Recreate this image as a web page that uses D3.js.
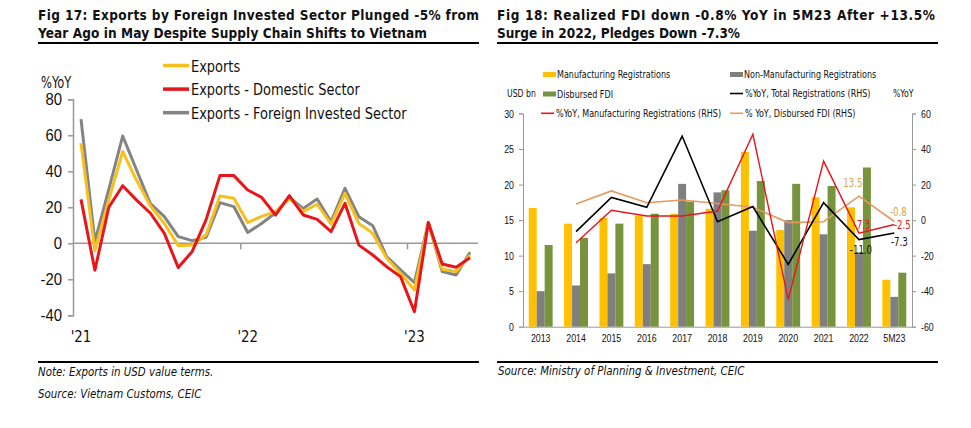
<!DOCTYPE html>
<html>
<head>
<meta charset="utf-8">
<script src="https://cdn.jsdelivr.net/npm/d3@7"></script>
<style>
  body { margin: 0; background: #fff; }
  svg { display: block; }
  .narrow { font-family: "DejaVu Sans Condensed", "DejaVu Sans", sans-serif; }
  .title { font-family: "DejaVu Sans Condensed", "DejaVu Sans", sans-serif; font-weight: bold; font-size: 13.5px; fill: #111; }
  .note { font-family: "DejaVu Sans Condensed", "DejaVu Sans", sans-serif; font-style: italic; font-size: 12px; fill: #111; }
</style>
</head>
<body>
<svg id="chart" width="971" height="428"></svg>
<script>
// ---- Fig 17 data: monthly exports %YoY, Jan-21 .. May-23
const months = ["Jan-21","Feb-21","Mar-21","Apr-21","May-21","Jun-21","Jul-21","Aug-21","Sep-21","Oct-21","Nov-21","Dec-21",
                "Jan-22","Feb-22","Mar-22","Apr-22","May-22","Jun-22","Jul-22","Aug-22","Sep-22","Oct-22","Nov-22","Dec-22",
                "Jan-23","Feb-23","Mar-23","Apr-23","May-23"];
const exportsTotal    = [55.6, -4, 24, 51, 35, 20.7, 11, -1.3, -0.9, 4.6, 26.3, 25, 11.5, 15, 17.6, 25, 17.6, 21.7, 10.7, 27.8, 11, 5.5, -8.3, -16.7, -25.9, 11.5, -14.4, -15.7, -6.5];
const exportsDomestic = [24.4, -15, 20, 32, 24, 16.7, 5.5, -13.5, -4.6, 13, 37.6, 37.6, 29.6, 25.5, 15.7, 26.5, 15.7, 13.3, 6.5, 22.2, -1, -6.5, -13, -18.5, -38, 11.5, -11.5, -13.3, -8];
const exportsForeign  = [69, 1, 30, 59.6, 40.7, 22, 14.8, 3.7, 1.5, 3.3, 22.6, 20.4, 6, 11, 17, 25.4, 19.4, 24.6, 12, 30.5, 14.8, 9.8, -7.4, -14.8, -21.8, 11.5, -15.7, -17.6, -5];
const yearLabels17 = [["Jan-21", "'21"], ["Jan-22", "'22"], ["Jan-23", "'23"]];
const yTicks17 = [80, 60, 40, 20, 0, -20, -40];

// ---- Fig 18 data: FDI, USD bn and %YoY
const years = ["2013","2014","2015","2016","2017","2018","2019","2020","2021","2022","5M23"];
const mfgReg    = [16.7, 14.5, 15.3, 15.6, 15.9, 16.6, 24.6, 13.6, 18.2, 16.8, 6.6];
const nonMfgReg = [5.0, 5.8, 7.5, 8.8, 20.1, 18.9, 13.5, 15.0, 13.0, 10.5, 4.2];
const disbursed = [11.5, 12.5, 14.5, 15.9, 17.6, 19.2, 20.5, 20.1, 19.8, 22.4, 7.6];
const yoyTotal     = [null, -6.5, 12.8, 7.2, 47.3, -0.9, 7.6, -24.9, 9.8, -11.0, -7.3];
const yoyMfg       = [null, -12.7, 5.5, 2.3, 2.3, 5.1, 48.3, -44.6, 33.2, -7.3, -2.5];
const yoyDisbursed = [null, 9.1, 16.4, 9.8, 11.3, 9.3, 7.2, -1.4, -0.9, 13.5, -0.8];
const yTicksL18 = [0, 5, 10, 15, 20, 25, 30];
const yTicksR18 = [-60, -40, -20, 0, 20, 40, 60];

const svg = d3.select("#chart");
const fmt = d => String(d);   // plain hyphen minus like the source

// squeeze text horizontally to mimic the narrow source font
function condense(sel, f) {
  sel.each(function() {
    const w = this.getComputedTextLength();
    d3.select(this).attr("textLength", w * f).attr("lengthAdjust", "spacingAndGlyphs");
  });
  return sel;
}

// ---- titles, rules, notes
function titleBlock(x, lines, width) {
  lines.forEach((l, i) => {
    svg.append("text").attr("class", "title")
      .attr("x", x).attr("y", 20 + i * 17.5)
      .attr("textLength", l[1]).attr("lengthAdjust", "spacing")
      .text(l[0]);
  });
  svg.append("line").attr("x1", x).attr("x2", x + width).attr("y1", 43).attr("y2", 43)
     .attr("stroke", "#000").attr("stroke-width", 2);
  svg.append("line").attr("x1", x).attr("x2", x + width).attr("y1", 362).attr("y2", 362)
     .attr("stroke", "#000").attr("stroke-width", 2);
}
titleBlock(38, [["Fig 17: Exports by Foreign Invested Sector Plunged -5% from", 441],
                ["Year Ago in May Despite Supply Chain Shifts to Vietnam", 389]], 441);
titleBlock(497, [["Fig 18: Realized FDI down -0.8% YoY in 5M23 After +13.5%", 438],
                 ["Surge in 2022, Pledges Down -7.3%", 243]], 441);

condense(svg.append("text").attr("class", "note").attr("x", 38).attr("y", 376).text("Note: Exports in USD value terms."), 0.95);
condense(svg.append("text").attr("class", "note").attr("x", 38).attr("y", 398).text("Source: Vietnam Customs, CEIC"), 0.95);
condense(svg.append("text").attr("class", "note").attr("x", 498).attr("y", 375).text("Source: Ministry of Planning & Investment, CEIC"), 0.95);

// =============== Fig 17 ===============
const g1 = svg.append("g").attr("class", "narrow");
const x1 = d3.scalePoint().domain(months).range([81, 470]);
const y1 = d3.scaleLinear().domain([-40, 80]).range([315.3, 99.3]);
const step1 = x1.step();

const yAxis1 = g1.append("g").attr("transform", "translate(73,0)")
  .call(d3.axisLeft(y1).tickValues(yTicks17).tickFormat(fmt).tickSize(5).tickPadding(6));
yAxis1.select(".domain").attr("stroke", "#999").attr("stroke-width", 1.5);
yAxis1.selectAll(".tick line").attr("stroke", "#999").attr("stroke-width", 1.5);
condense(yAxis1.selectAll(".tick text").style("font-size", "16.5px").attr("fill", "#111").attr("font-family", "inherit"), 0.9);

condense(g1.append("text").attr("x", 41).attr("y", 88).style("font-size", "15px").attr("fill", "#111").text("%YoY"), 0.85);

// zero line with category ticks between Dec and Jan
g1.append("line").attr("x1", 73).attr("x2", x1("May-23") + step1 / 2 + 1)
  .attr("y1", y1(0)).attr("y2", y1(0)).attr("stroke", "#999").attr("stroke-width", 1.5);
yearLabels17.forEach(([m, lab], i) => {
  if (i > 0) {
    const tx = x1(m) - step1 / 2;
    g1.append("line").attr("x1", tx).attr("x2", tx).attr("y1", y1(0)).attr("y2", y1(0) + 6)
      .attr("stroke", "#999").attr("stroke-width", 1.5);
  }
  condense(g1.append("text").attr("x", x1(m)).attr("y", 342).attr("text-anchor", "middle")
    .style("font-size", "16.5px").attr("fill", "#111").text(lab), 0.9);
});

const series17 = [
  { name: "Exports", values: exportsTotal, color: "#f7c01c" },
  { name: "Exports - Domestic Sector", values: exportsDomestic, color: "#e8151b" },
  { name: "Exports - Foreign Invested Sector", values: exportsForeign, color: "#848484" }
];
const line1 = d3.line().x((d, i) => x1(months[i])).y(d => y1(d));
[series17[2], series17[0], series17[1]].forEach(s => {
  g1.append("path").datum(s.values).attr("d", line1)
    .attr("fill", "none").attr("stroke", s.color).attr("stroke-width", 3).attr("stroke-linejoin", "round");
});

series17.forEach((s, i) => {
  const ly = 65.5 + i * 23.6;
  g1.append("line").attr("x1", 163).attr("x2", 189).attr("y1", ly).attr("y2", ly)
    .attr("stroke", s.color).attr("stroke-width", 3.5);
  condense(g1.append("text").attr("x", 191).attr("y", ly + 6).style("font-size", "16px").attr("fill", "#111").text(s.name), 0.9);
});

// =============== Fig 18 ===============
const g2 = svg.append("g").attr("class", "narrow");
const x2 = d3.scaleBand().domain(years).range([523, 912]);
const xs = d3.scaleBand().domain(["mfg", "non", "dis"]).range([0, x2.bandwidth()]).paddingOuter(0.72);
const yL = d3.scaleLinear().domain([0, 30]).range([326.7, 113.5]);
const yR = d3.scaleLinear().domain([-60, 60]).range([326.7, 113.5]);

const axL = g2.append("g").attr("transform", "translate(523,0)")
  .call(d3.axisLeft(yL).tickValues(yTicksL18).tickFormat(fmt).tickSize(4).tickPadding(5));
const axR = g2.append("g").attr("transform", "translate(912,0)")
  .call(d3.axisRight(yR).tickValues(yTicksR18).tickFormat(fmt).tickSize(4).tickPadding(5));
[axL, axR].forEach(a => {
  a.select(".domain").attr("stroke", "#999");
  a.selectAll(".tick line").attr("stroke", "#999");
  condense(a.selectAll(".tick text").style("font-size", "11px").attr("fill", "#111").attr("font-family", "inherit"), 0.8);
});
const axB = g2.append("g").attr("transform", "translate(0,326.7)")
  .call(d3.axisBottom(x2).tickSize(0).tickPadding(8));
axB.select(".domain").attr("stroke", "#999");
condense(axB.selectAll(".tick text").style("font-size", "11px").attr("fill", "#111").attr("font-family", "inherit"), 0.8);

const barSeries = [
  { key: "mfg", name: "Manufacturing Registrations", values: mfgReg, color: "#ffc000" },
  { key: "non", name: "Non-Manufacturing Registrations", values: nonMfgReg, color: "#7f7f7f" },
  { key: "dis", name: "Disbursed FDI", values: disbursed, color: "#77933c" }
];
barSeries.forEach(s => {
  g2.append("g").selectAll("rect").data(s.values).join("rect")
    .attr("x", (d, i) => x2(years[i]) + xs(s.key))
    .attr("width", xs.bandwidth())
    .attr("y", d => yL(d))
    .attr("height", d => yL(0) - yL(d))
    .attr("fill", s.color);
});

const lineSeries = [
  { name: "%YoY, Total Registrations (RHS)", values: yoyTotal, color: "#000", w: 1.6 },
  { name: "%YoY, Manufacturing Registrations (RHS)", values: yoyMfg, color: "#e8151b", w: 1.4 },
  { name: "% YoY, Disbursed FDI (RHS)", values: yoyDisbursed, color: "#e39a5e", w: 1.6 }
];
const line2 = d3.line().defined(d => d !== null)
  .x((d, i) => x2(years[i]) + x2.bandwidth() / 2).y(d => yR(d));
[lineSeries[2], lineSeries[0], lineSeries[1]].forEach(s => {
  g2.append("path").datum(s.values).attr("d", line2)
    .attr("fill", "none").attr("stroke", s.color).attr("stroke-width", s.w);
});

// data labels
const cx = i => x2(years[i]) + x2.bandwidth() / 2;
const labels18 = [
  { s: yoyDisbursed, i: 9, dx: -6, dy: -9, color: "#d4a64a" },
  { s: yoyDisbursed, i: 10, dx: 4, dy: -6, color: "#d4a64a" },
  { s: yoyMfg, i: 9, dx: 3, dy: -4, color: "#e8151b" },
  { s: yoyMfg, i: 10, dx: 8, dy: 4, color: "#e8151b" },
  { s: yoyTotal, i: 9, dx: 2, dy: 14, color: "#111" },
  { s: yoyTotal, i: 10, dx: 5, dy: 13, color: "#111" }
];
labels18.forEach(l => {
  condense(g2.append("text").attr("x", cx(l.i) + l.dx).attr("y", yR(l.s[l.i]) + l.dy)
    .attr("text-anchor", "middle").style("font-size", "12px").attr("fill", l.color)
    .text(l.s[l.i].toFixed(1)), 0.8);
});

// legend
const legPos = [[543, 74.5], [730, 74.5], [543, 94]];
barSeries.forEach((s, i) => {
  const [lx, ly] = legPos[i];
  g2.append("rect").attr("x", lx).attr("y", ly - 2.5).attr("width", 13).attr("height", 5).attr("fill", s.color);
  condense(g2.append("text").attr("x", lx + 14).attr("y", ly + 3.5).style("font-size", "10.5px").attr("fill", "#111").text(s.name), 0.85);
});
const legPosL = [[730, 93.5], [541, 113.3], [730, 113.3]];
lineSeries.forEach((s, i) => {
  const [lx, ly] = legPosL[i];
  g2.append("line").attr("x1", lx).attr("x2", lx + 13).attr("y1", ly).attr("y2", ly)
    .attr("stroke", s.color).attr("stroke-width", 1.6);
  condense(g2.append("text").attr("x", lx + 15).attr("y", ly + 3.8).style("font-size", "10.5px").attr("fill", "#111").text(s.name), 0.85);
});
condense(g2.append("text").attr("x", 507).attr("y", 97).style("font-size", "10.5px").attr("fill", "#111").text("USD bn"), 0.82);
condense(g2.append("text").attr("x", 893).attr("y", 97).style("font-size", "10.5px").attr("fill", "#111").text("%YoY"), 0.82);
</script>
</body>
</html>
